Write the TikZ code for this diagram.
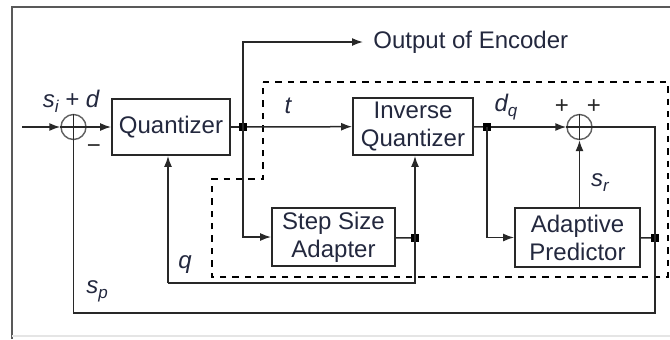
\documentclass[tikz,border=0pt]{standalone}
\usepackage{fontspec}
\setmainfont{Liberation Sans}
\usetikzlibrary{arrows.meta}
\definecolor{ln}{RGB}{40,40,40}
\definecolor{tx}{RGB}{35,40,62}
\newcommand\lsub[1]{\raisebox{-0.4ex}{\fontsize{8.5}{9}\selectfont #1}}
\tikzset{
  blk/.style={draw=ln, line width=0.9pt, fill=white, align=center, text=tx,
    font=\fontsize{12}{14}\selectfont, inner sep=0pt},
  wire/.style={draw=ln, line width=0.75pt},
  arr/.style={wire, -{Latex[length=5.5pt,width=4pt]}},
  sumc/.style={circle, draw=gray!75!black, line width=0.7pt, minimum size=12.5pt, inner sep=0pt},
  plus/.style={draw=ln, line width=0.7pt},
  jdot/.style={rectangle, fill=black, minimum size=3.6pt, inner sep=0pt},
  lbl/.style={text=tx, font=\itshape\fontsize{12}{14}\selectfont, inner sep=0pt},
  sgn/.style={text=ln, font=\fontsize{12}{14}\selectfont, inner sep=0pt},
  dashb/.style={draw=black, line width=1.1pt, dash pattern=on 3.2pt off 3pt},
  frame/.style={draw=gray!70!black, line width=1pt}
}
\begin{document}
\begin{tikzpicture}[x=0.5pt,y=-0.5pt]
\useasboundingbox (0,0) rectangle (670,339);

% outer frame
\draw[frame] (12,339) -- (12,7) -- (670,7);
\draw[gray!20, line width=0.6pt] (12,336) -- (670,336);

% decoder boundary
\draw[dashb] (263,82) -- (668,82) -- (668,277) -- (212,277) -- (212,179) -- (263,179) -- cycle;

% blocks
\node[sumc] (s1) at (73.5,127) {};
\node[blk, minimum width=59pt, minimum height=28pt] (qz) at (171,127) {Quantizer};
\node[blk, minimum width=60pt, minimum height=28.5pt] (iq) at (413,126.5) {Inverse\\Quantizer};
\node[blk, minimum width=61.5pt, minimum height=29pt] (ssa) at (333.5,237) {Step Size\\Adapter};
\node[blk, minimum width=62.5pt, minimum height=29.5pt] (ap) at (577.5,237.5) {Adaptive\\Predictor};
\node[sumc] (s2) at (579.5,127) {};
\draw[plus] (s1.north) -- (s1.south) (s1.west) -- (s1.east);
\draw[plus] (s2.north) -- (s2.south) (s2.west) -- (s2.east);

% junction points
\node[jdot] (j1) at (243,127) {};
\node[jdot] (j2) at (487,127) {};
\node[jdot] (j3) at (415,238) {};
\node[jdot] (j4) at (655,238) {};

% free ends
\coordinate (in) at (22,127);
\coordinate (out) at (363,42);
\coordinate (qb) at (168,283);
\coordinate (fb) at (655,313);
\node[anchor=west, text=tx, font=\fontsize{12}{14}\selectfont, inner sep=0pt] (outtxt) at (373,42) {Output of Encoder};

% connectors
\draw[arr] (in) -- (s1);
\draw[arr] (s1) -- (qz);
\draw[wire] (qz) -- (j1);
\draw[arr] (j1) -- (iq);
\draw[arr] (j1.center) |- (out);
\draw[arr] (j1.center) |- (ssa.west);
\draw[wire] (iq) -- (j2);
\draw[arr] (j2) -- (s2);
\draw[arr] (j2.center) |- (ap.west);
\draw[wire] (ssa) -- (j3);
\draw[arr] (j3.center) -- (j3 |- iq.south);
\draw[wire] (j3.center) |- (qb);
\draw[arr] (qb) -- (qb |- qz.south);
\draw[arr] (s2 |- ap.north) -- (s2.south);
\draw[wire] (ap) -- (j4);
\draw[wire] (s2.east) -| (fb) -| (s1.south);

% signal labels
\node[lbl] at (71,101) {s\lsub{i} + d};
\node[sgn] at (94,149) {\symbol{"2212}};
\node[lbl] at (288,106) {t};
\node[lbl] at (506,107) {d\lsub{q}};
\node[sgn] at (562,107) {+};
\node[sgn] at (594,107) {+};
\node[lbl] at (600,183) {s\lsub{r}};
\node[lbl] at (185,265) {q};
\node[lbl] at (97,291) {s\lsub{p}};
\end{tikzpicture}
\end{document}
